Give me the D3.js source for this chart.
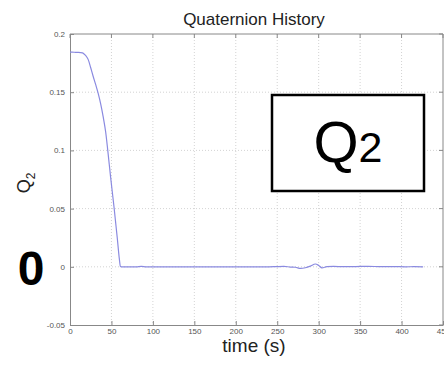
<!DOCTYPE html>
<html>
<head>
<meta charset="utf-8">
<script src="https://cdn.jsdelivr.net/npm/d3@7"></script>
<style>
  body { margin: 0; background: #fff; }
  svg { display: block; font-family: "Liberation Sans", Arial, sans-serif; }
</style>
</head>
<body>
<svg id="chart"></svg>
<script>
// time (s) and Q2
const time = [0, 5, 10, 15, 17, 19.5, 22, 25, 28, 31, 34, 37, 40, 43, 45.5, 49, 53, 57, 59.5, 60.8, 62, 70, 80, 86, 92, 110, 150, 200, 240, 250, 258, 266, 272, 278, 284, 290, 296, 300, 304, 310, 318, 330, 345, 360, 375, 390, 405, 415, 426]
const q2 = [0.1844, 0.1843, 0.1842, 0.1838, 0.1828, 0.1810, 0.1780, 0.1710, 0.1635, 0.1565, 0.1490, 0.1400, 0.1290, 0.1160, 0.1005, 0.0770, 0.0520, 0.0250, 0.0070, 0.0004, 0.0000, 0.0000, 0.0000, 0.0004, 0.0000, 0.0000, 0.0000, 0.0000, 0.0000, 0.0002, 0.0003, -0.0002, -0.0004, -0.0014, -0.0008, 0.0006, 0.0024, 0.0012, -0.0009, 0.0001, 0.0003, 0.0001, 0.0002, 0.0004, 0.0001, 0.0002, 0.0000, 0.0001, 0.0000]
const xTicks = [0, 50, 100, 150, 200, 250, 300, 350, 400, 450]
const yTicks = [-0.05, 0, 0.05, 0.1, 0.15, 0.2]

const width = 444, height = 365
const margin = {top: 34, right: 1, bottom: 40, left: 70}
const innerW = width - margin.left - margin.right
const innerH = height - margin.top - margin.bottom

const svg = d3.select('#chart').attr('width', width).attr('height', height)
const g = svg.append('g').attr('transform', `translate(${margin.left},${margin.top})`)

const x = d3.scaleLinear().domain([0, 450]).range([0, innerW])
const y = d3.scaleLinear().domain([-0.05, 0.2]).range([innerH, 0])

// grid
g.selectAll('.vgrid').data(xTicks.slice(1, -1)).enter().append('line')
  .attr('x1', d => x(d)).attr('x2', d => x(d))
  .attr('y1', 0).attr('y2', innerH)
  .attr('stroke', '#c8c8c8').attr('stroke-width', 0.8).attr('stroke-dasharray', '1,2')
g.selectAll('.hgrid').data(yTicks.slice(1, -1)).enter().append('line')
  .attr('y1', d => y(d)).attr('y2', d => y(d))
  .attr('x1', 0).attr('x2', innerW)
  .attr('stroke', '#c8c8c8').attr('stroke-width', 0.8).attr('stroke-dasharray', '1,2')

// axes
const xaxis = d3.axisBottom(x).tickValues(xTicks).tickSize(-4).tickSizeOuter(0).tickPadding(6).tickFormat(d3.format('d'))
const yaxis = d3.axisLeft(y).tickValues(yTicks).tickSize(-4).tickSizeOuter(0).tickPadding(5)
  .tickFormat(d => d === 0 ? '0' : String(+d.toFixed(2)))

const xg = g.append('g').attr('transform', `translate(0,${innerH})`).call(xaxis)
const yg = g.append('g').call(yaxis)
for (const ax of [xg, yg]) {
  ax.select('.domain').attr('stroke', '#888')
  ax.selectAll('.tick line').attr('stroke', '#888')
  ax.selectAll('.tick text').attr('fill', '#555').attr('font-size', 8)
    .attr('font-family', '"Liberation Sans", Arial, sans-serif')
}
xg.selectAll('.tick text').attr('dy', '0.4em')

// top and right frame with ticks
g.append('line').attr('x1', 0).attr('x2', innerW).attr('y1', 0).attr('y2', 0).attr('stroke', '#888')
g.append('line').attr('x1', innerW).attr('x2', innerW).attr('y1', 0).attr('y2', innerH).attr('stroke', '#888')
g.selectAll('.ttick').data(xTicks).enter().append('line')
  .attr('x1', d => x(d)).attr('x2', d => x(d)).attr('y1', 0).attr('y2', 4).attr('stroke', '#888')
g.selectAll('.rtick').data(yTicks).enter().append('line')
  .attr('y1', d => y(d)).attr('y2', d => y(d)).attr('x1', innerW).attr('x2', innerW - 4).attr('stroke', '#888')

// data line
const line = d3.line().x((d, i) => x(time[i])).y(d => y(d)).curve(d3.curveMonotoneX)
g.append('path').attr('d', line(q2))
  .attr('fill', 'none').attr('stroke', '#8a8ae0').attr('stroke-width', 1.2)

// titles
svg.append('text').attr('x', 254).attr('y', 25).attr('text-anchor', 'middle')
  .attr('font-size', 17).attr('fill', '#222').text('Quaternion History')
svg.append('text').attr('x', 254).attr('y', 352).attr('text-anchor', 'middle')
  .attr('font-size', 19).attr('fill', '#222').text('time (s)')
const yl = svg.append('text').attr('transform', 'translate(30,183) rotate(-90)')
  .attr('text-anchor', 'middle').attr('font-size', 18).attr('fill', '#222')
yl.append('tspan').text('Q')
yl.append('tspan').attr('font-size', 12).attr('dy', 5).text('2')

// big annotation "0"
svg.append('text').attr('x', 31).attr('y', 285).attr('text-anchor', 'middle')
  .attr('font-size', 48).attr('font-weight', 'bold').attr('fill', '#000').text('0')

// boxed label
svg.append('rect').attr('x', 272).attr('y', 95).attr('width', 152).attr('height', 96)
  .attr('fill', '#fff').attr('stroke', '#000').attr('stroke-width', 2.5)
const bt = svg.append('text').attr('x', 348).attr('y', 162).attr('text-anchor', 'middle').attr('fill', '#000')
bt.append('tspan').attr('font-size', 58).text('Q')
bt.append('tspan').attr('font-size', 43).text('2')
</script>
</body>
</html>
